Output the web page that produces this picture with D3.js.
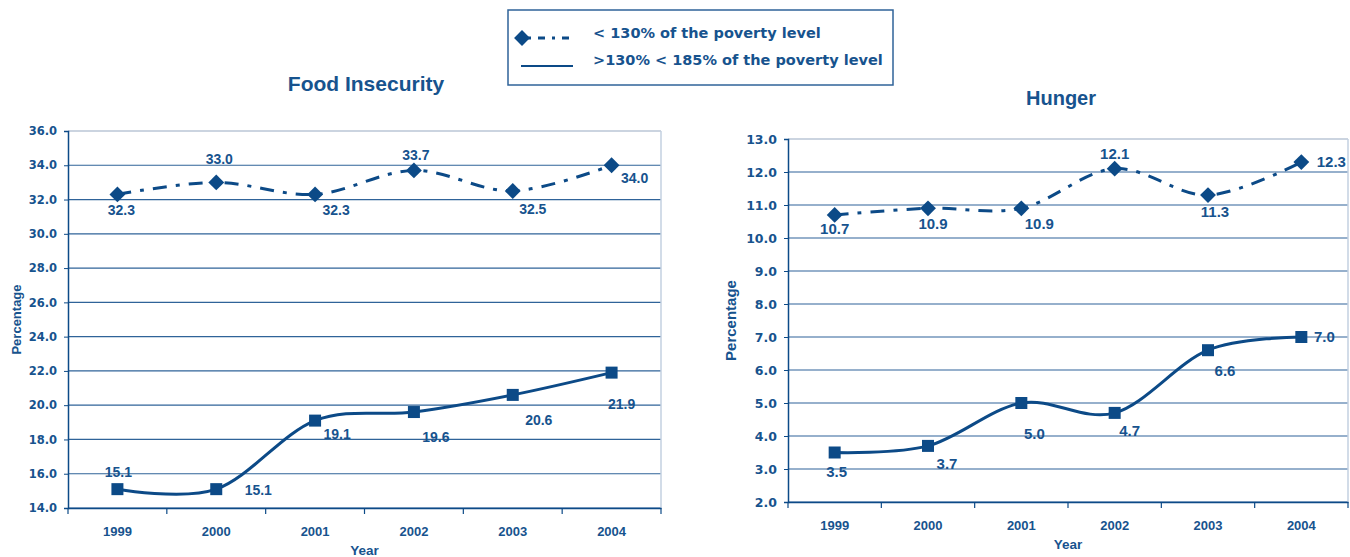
<!DOCTYPE html>
<html>
<head>
<meta charset="utf-8">
<script src="https://cdn.jsdelivr.net/npm/d3@7"></script>
<style>
  body { margin: 0; background: #fff; }
  text { font-family: "Liberation Sans", Arial, sans-serif; font-weight: bold; fill: #17538e; }
</style>
</head>
<body>
<div id="chart"></div>
<script>
const years = ["1999", "2000", "2001", "2002", "2003", "2004"];
const seriesNames = ["< 130% of the poverty level", ">130% < 185% of the poverty level"];

const foodLow = [32.3, 33.0, 32.3, 33.7, 32.5, 34.0];
const foodMid = [15.1, 15.1, 19.1, 19.6, 20.6, 21.9];
const foodTicks = [14, 16, 18, 20, 22, 24, 26, 28, 30, 32, 34, 36];

const hungerLow = [10.7, 10.9, 10.9, 12.1, 11.3, 12.3];
const hungerMid = [3.5, 3.7, 5.0, 4.7, 6.6, 7.0];
const hungerTicks = [2, 3, 4, 5, 6, 7, 8, 9, 10, 11, 12, 13];

const blue = "#0c4a87";
const W = 1350, H = 557;
const wide = "DejaVu Sans, Verdana, sans-serif";
const narrow = "Liberation Sans, Arial, sans-serif";

const svg = d3.select("#chart").append("svg")
    .attr("width", W)
    .attr("height", H);

// label offsets (dx, dy) from each marker
const foodLowOff = [[4,16],[3,-23],[21,16],[2,-15],[20,18],[23,13]];
const foodMidOff = [[1,-17],[42,1],[22,13],[22,25],[26,25],[10,31]];
const hungerLowOff = [[0,14],[5,15],[18,15],[0,-15],[7,17],[30,0]];
const hungerMidOff = [[2,19],[19,18],[13,31],[15,18],[17,21],[23,0]];

function drawPanel(opt) {
    const x = d3.scaleBand().domain(years).range([opt.x0, opt.x1]);
    const y = d3.scaleLinear().domain([opt.ticks[0], opt.ticks[opt.ticks.length - 1]]).range([opt.y1, opt.y0]);
    const g = svg.append("g");

    // grid lines
    g.selectAll("line.grid")
        .data(opt.ticks)
        .enter().append("line")
        .attr("x1", opt.x0).attr("x2", opt.x1)
        .attr("y1", d => y(d)).attr("y2", d => y(d))
        .style("stroke", (d, i) => i === opt.ticks.length - 1 ? "#97a9c2" : "#2f6399")
        .style("stroke-width", 1.2);

    // right border
    g.append("line")
        .attr("x1", opt.x1).attr("x2", opt.x1)
        .attr("y1", opt.y0).attr("y2", opt.y1)
        .style("stroke", "#c3d0e0").style("stroke-width", 1.5);

    // y axis
    const yAxis = d3.axisLeft(y).tickValues(opt.ticks).tickFormat(d3.format(".1f")).tickSize(4);
    const ya = g.append("g").attr("transform", "translate(" + opt.x0 + ",0)").call(yAxis);
    ya.select(".domain").style("stroke", blue).style("stroke-width", 1.5);
    ya.selectAll(".tick line").style("stroke", blue);
    ya.selectAll(".tick text").attr("x", -11)
        .style("font-size", opt.tickSize)
        .style("font-family", wide).style("fill", "#17538e");

    // x axis
    const xAxis = d3.axisBottom(x).tickSize(0);
    const xa = g.append("g").attr("transform", "translate(0," + opt.y1 + ")").call(xAxis);
    xa.select(".domain").style("stroke", blue).style("stroke-width", 1.5);
    xa.selectAll(".tick text").attr("y", 19).style("font-size", "13px")
        .style("font-family", narrow).style("fill", "#17538e");
    // band boundary ticks
    const bounds = years.map(d => x(d)).concat([opt.x1]);
    g.selectAll("line.xt")
        .data(bounds)
        .enter().append("line")
        .attr("x1", d => d).attr("x2", d => d)
        .attr("y1", opt.y1).attr("y2", opt.y1 + 6)
        .style("stroke", blue).style("stroke-width", 1.2);

    // titles
    g.append("text").attr("x", opt.titleX).attr("y", opt.titleY)
        .attr("text-anchor", "middle").style("font-size", opt.titleSize).text(opt.title);
    g.append("text").attr("x", (opt.x0 + opt.x1) / 2).attr("y", opt.y1 + 47)
        .attr("text-anchor", "middle").style("font-size", "13.5px").text("Year");
    g.append("text")
        .attr("transform", "translate(" + opt.yTitleX + "," + ((opt.y0 + opt.y1) / 2) + ") rotate(-90)")
        .attr("text-anchor", "middle").style("font-size", opt.yTitleSize).text("Percentage");

    const cx = (d, i) => x(years[i]) + x.bandwidth() / 2;
    const line = d3.line()
        .x(cx)
        .y(d => y(d))
        .curve(d3.curveCardinal.tension(0));

    // upper series: dash-dot + diamonds
    g.append("path").datum(opt.low)
        .attr("d", line)
        .style("fill", "none").style("stroke", blue).style("stroke-width", 3)
        .style("stroke-dasharray", "14,9,4,9");
    g.selectAll("path.dia")
        .data(opt.low)
        .enter().append("path")
        .attr("d", d3.symbol(d3.symbolDiamond2, 160))
        .attr("transform", (d, i) => "translate(" + cx(d, i) + "," + y(d) + ")")
        .style("fill", blue);

    // lower series: solid + squares
    g.append("path").datum(opt.mid)
        .attr("d", line)
        .style("fill", "none").style("stroke", blue).style("stroke-width", 3);
    g.selectAll("rect.sq")
        .data(opt.mid)
        .enter().append("rect")
        .attr("x", (d, i) => cx(d, i) - 6).attr("y", d => y(d) - 6)
        .attr("width", 12).attr("height", 12)
        .style("fill", blue);

    // data labels
    [[opt.low, opt.lowOff], [opt.mid, opt.midOff]].forEach(function (s) {
        g.selectAll(null)
            .data(s[0])
            .enter().append("text")
            .attr("x", (d, i) => cx(d, i) + s[1][i][0])
            .attr("y", (d, i) => y(d) + s[1][i][1])
            .attr("dy", "0.35em")
            .attr("text-anchor", "middle")
            .style("font-size", opt.labelSize)
            .text(d => d.toFixed(1));
    });
}

drawPanel({
    x0: 68, x1: 661, y0: 131, y1: 508,
    ticks: foodTicks, low: foodLow, mid: foodMid,
    lowOff: foodLowOff, midOff: foodMidOff,
    title: "Food Insecurity", titleX: 366, titleY: 91, titleSize: "21px",
    yTitleX: 21, yTitleSize: "13px", tickSize: "11.5px", labelSize: "14px"
});

drawPanel({
    x0: 788, x1: 1348, y0: 139, y1: 502,
    ticks: hungerTicks, low: hungerLow, mid: hungerMid,
    lowOff: hungerLowOff, midOff: hungerMidOff,
    title: "Hunger", titleX: 1061, titleY: 105, titleSize: "20px",
    yTitleX: 736, yTitleSize: "15px", tickSize: "12.5px", labelSize: "15px"
});

// legend
const leg = svg.append("g");
leg.append("rect")
    .attr("x", 508).attr("y", 10).attr("width", 385).attr("height", 75)
    .style("fill", "#fff").style("stroke", "#2f6399").style("stroke-width", 1.5);
leg.append("line").attr("x1", 528).attr("x2", 573).attr("y1", 38).attr("y2", 38)
    .style("stroke", blue).style("stroke-width", 3).style("stroke-dasharray", "3,7,7,7");
leg.append("path")
    .attr("d", d3.symbol(d3.symbolDiamond2, 160))
    .attr("transform", "translate(522,38)")
    .style("fill", blue);
leg.append("line").attr("x1", 521).attr("x2", 573).attr("y1", 66).attr("y2", 66)
    .style("stroke", blue).style("stroke-width", 2);
leg.selectAll("text.lg")
    .data(seriesNames)
    .enter().append("text")
    .attr("x", 593).attr("y", (d, i) => 33 + i * 27)
    .attr("dy", "0.35em")
    .style("font-size", "14.5px")
    .style("font-family", wide)
    .text(d => d);
</script>
</body>
</html>
